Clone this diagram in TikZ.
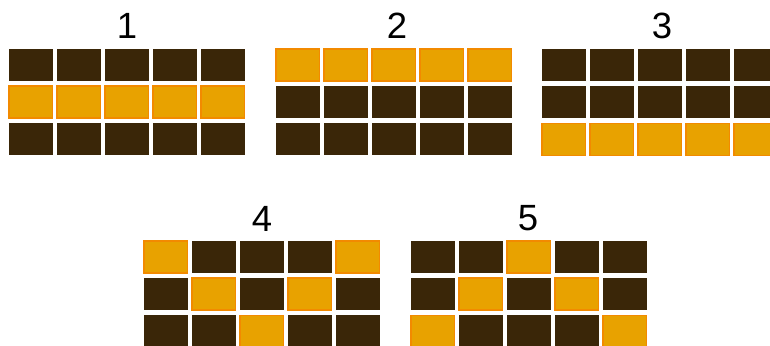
\documentclass[tikz,border=0pt]{standalone}
\usepackage{fontspec}
\setmainfont{Liberation Sans}
\definecolor{darkcell}{HTML}{3A2608}
\definecolor{orangefill}{HTML}{E8A200}
\definecolor{orangeline}{HTML}{F28A00}
\tikzset{
  cell/.style={anchor=north west, minimum width=43.5pt, minimum height=32pt, inner sep=0pt, outer sep=0pt},
  dk/.style={cell, fill=darkcell, draw=none},
  og/.style={cell, fill=orangefill, draw=orangeline, line width=1.5pt},
  lbl/.style={font=\fontsize{36.5}{38}\selectfont, text=black, inner sep=0pt}
}
\begin{document}
\begin{tikzpicture}[x=1pt,y=-1pt]
\useasboundingbox (0,0) rectangle (770,345);
\clip (0,0) rectangle (770,345);
% grids: name / x0 / y0 / pattern rows (1=orange)
\foreach \g/\xo/\yo/\pat in {
  1/9/49/{{0,0,0,0,0},{1,1,1,1,1},{0,0,0,0,0}},
  2/276/49/{{1,1,1,1,1},{0,0,0,0,0},{0,0,0,0,0}},
  3/542/49/{{0,0,0,0,0},{0,0,0,0,0},{1,1,1,1,1}},
  4/144/241/{{1,0,0,0,1},{0,1,0,1,0},{0,0,1,0,0}},
  5/411/241/{{0,0,1,0,0},{0,1,0,1,0},{1,0,0,0,1}}}{
  \foreach \row [count=\r] in \pat {
    \foreach \v [count=\c] in \row {
      \ifnum\v=1
        \node[og] (g\g r\r c\c) at ({\xo+(\c-1)*48},{\yo+(\r-1)*37.2}) {};
      \else
        \node[dk] (g\g r\r c\c) at ({\xo+(\c-1)*48},{\yo+(\r-1)*37.2}) {};
      \fi
    }
  }
}
\node[lbl] (l1) at (127,26) {1};
\node[lbl] (l2) at (397,26) {2};
\node[lbl] (l3) at (662,26) {3};
\node[lbl] (l4) at (262,218.5) {4};
\node[lbl] (l5) at (528,218.5) {5};
\end{tikzpicture}
\end{document}
